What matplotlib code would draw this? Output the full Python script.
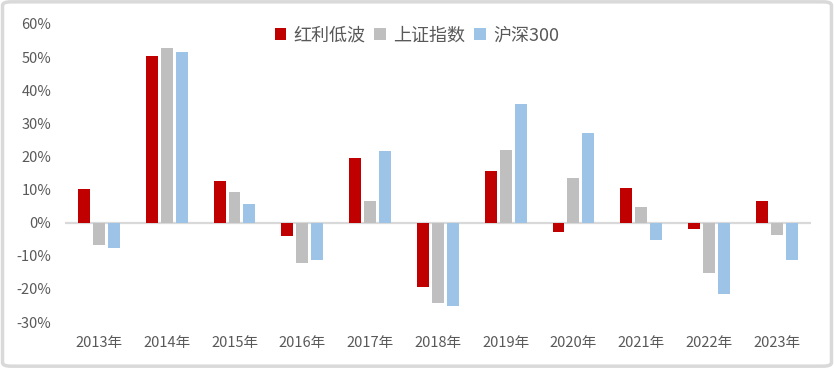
import matplotlib
matplotlib.use('Agg')
import matplotlib.pyplot as plt
import numpy as np
from matplotlib.patches import FancyBboxPatch
from matplotlib.ticker import FuncFormatter

plt.rcParams['font.family'] = ['Noto Sans CJK SC', 'DejaVu Sans']

years = ['2013年', '2014年', '2015年', '2016年', '2017年', '2018年',
         '2019年', '2020年', '2021年', '2022年', '2023年']
hongli = [10.3, 50.2, 12.7, -4.0, 19.6, -19.4, 15.7, -2.8, 10.6, -1.9, 6.4]
shangzheng = [-6.7, 52.6, 9.4, -12.2, 6.4, -24.4, 22.0, 13.6, 4.6, -15.1, -3.7]
hs300 = [-7.7, 51.4, 5.5, -11.3, 21.7, -25.3, 35.8, 27.1, -5.2, -21.4, -11.2]

fig = plt.figure(figsize=(8.34, 3.68), dpi=100)
ax = fig.add_axes([0.078, 0.125, 0.894, 0.81])

# rounded gray frame around the figure
frame = FancyBboxPatch((0.003, 0.005), 0.994, 0.99, boxstyle='round,pad=0,rounding_size=0.01',
                       transform=fig.transFigure, fill=False, edgecolor='#d9d9d9', linewidth=2.5)
fig.patches.append(frame)

x = np.arange(len(years))
w = 0.176
step = 0.22
ax.bar(x - step, hongli, w, color='#C00000', label='红利低波')
ax.bar(x, shangzheng, w, color='#BFBFBF', label='上证指数')
ax.bar(x + step, hs300, w, color='#9DC3E6', label='沪深300')

ax.axhline(0, color='#d9d9d9', linewidth=1.6, zorder=0)
ax.set_xlim(-0.5, len(years) - 0.5)
ax.set_ylim(-30, 60)
ax.set_yticks(range(-30, 61, 10))
ax.yaxis.set_major_formatter(FuncFormatter(lambda v, p: '%d%%' % v))
ax.set_xticks(x)
ax.set_xticklabels(years)
ax.tick_params(axis='both', length=0, colors='#595959', labelsize=10.5)
ax.tick_params(axis='x', pad=10)
ax.tick_params(axis='y', pad=10)
for s in ax.spines.values():
    s.set_visible(False)

leg = ax.legend(loc='upper center', bbox_to_anchor=(0.472, 1.045), ncol=3, frameon=False,
                fontsize=13, handlelength=0.65, handleheight=0.65, handletextpad=0.4,
                columnspacing=0.5, labelcolor='#595959')

fig.savefig('out.png', dpi=100)
